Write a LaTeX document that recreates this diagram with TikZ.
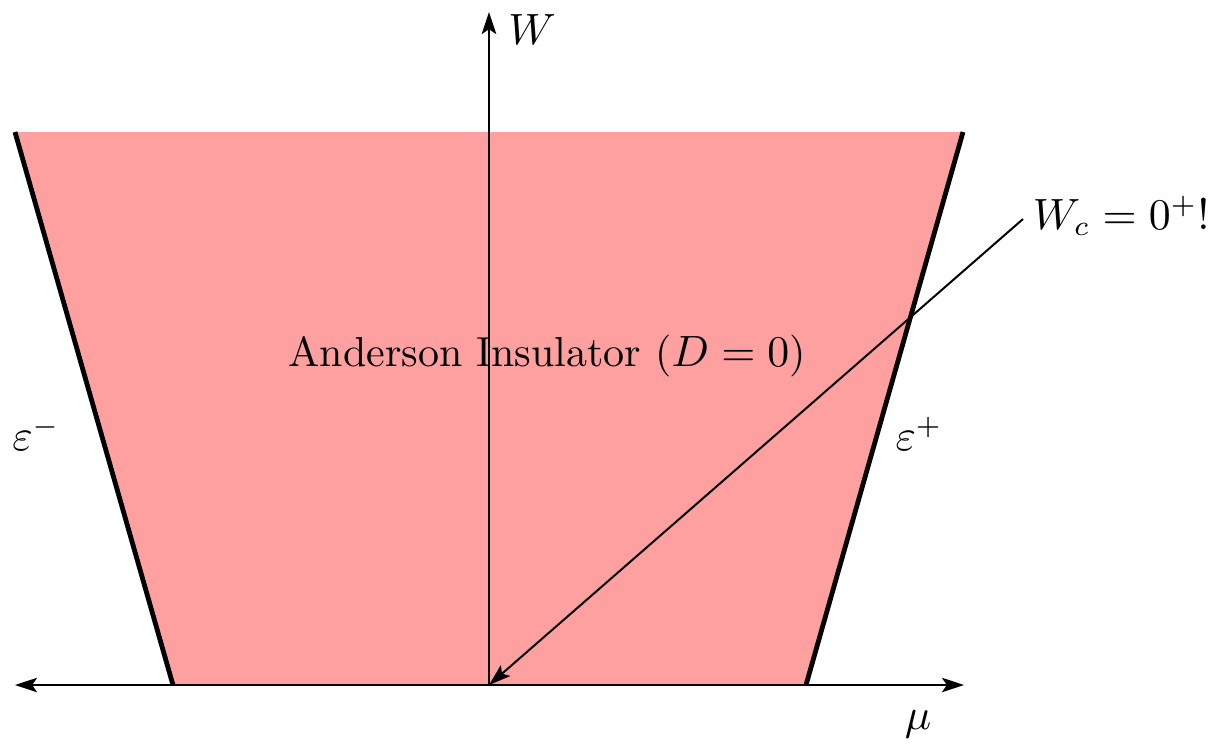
\documentclass[tikz,border=0pt]{standalone}
\usetikzlibrary{arrows.meta}
\definecolor{phasepink}{RGB}{255,160,160}
\begin{document}
\begin{tikzpicture}[x=0.25pt,y=-0.25pt,
  axis/.style={line width=0.5pt},
  tip/.style={-{Stealth[length=5.5pt,width=3.6pt,inset=1.2pt]}},
  edge/.style={line width=1.2pt},
  lbl/.style={inner sep=0pt,font=\fontsize{10.5pt}{12.6pt}\selectfont}]
\useasboundingbox (0,0) rectangle (1209,744);
\coordinate (O) at (489,685);
\coordinate (TL) at (15,132);
\coordinate (TR) at (963,132);
\coordinate (BL) at (173,685);
\coordinate (BR) at (806,685);
\coordinate (Xl) at (15,685);
\coordinate (Xr) at (964,685);
\coordinate (Yt) at (489,12);
\coordinate (Ws) at (1023,219);
\fill[phasepink] (TL) -- (TR) -- (BR) -- (BL) -- cycle;
\draw[edge] (TL) -- (BL);
\draw[edge] (TR) -- (BR);
\draw[axis,tip] (O) -- (Xr);
\draw[axis,tip] (O) -- (Xl);
\draw[axis,tip] (O) -- (Yt);
\draw[axis,tip] (Ws) -- (O);
\node[lbl] (wl) at (532,30) {$W$};
\node[lbl,anchor=west] (wc) at (1032,216) {$W_c = 0^{+}!$};
\node[lbl] (ai) at (547,356) {Anderson Insulator ($D=0$)};
\node[lbl] (em) at (36,434) {$\varepsilon^{-}$};
\node[lbl] (ep) at (919,434) {$\varepsilon^{+}$};
\node[lbl] (mu) at (918,724) {$\mu$};
\end{tikzpicture}
\end{document}
